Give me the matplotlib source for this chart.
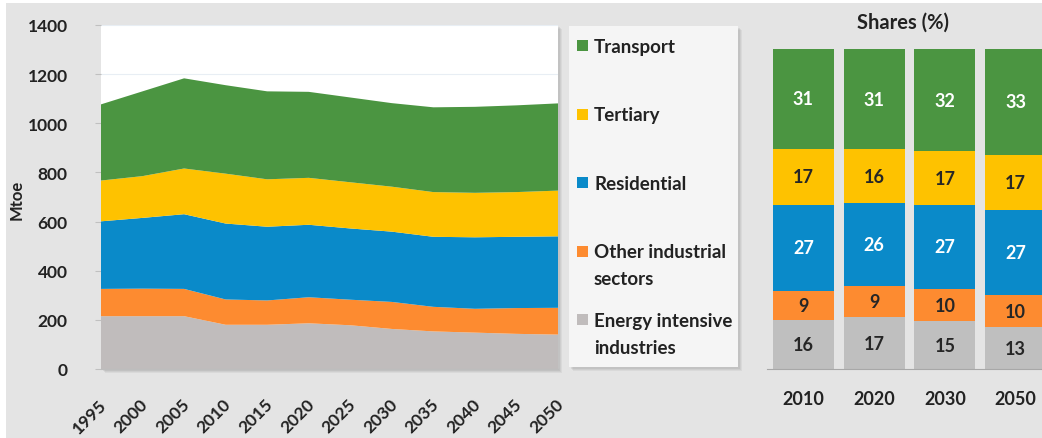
import numpy as np
import matplotlib
matplotlib.use("Agg")
import matplotlib.pyplot as plt
from matplotlib.patches import Rectangle
from matplotlib.transforms import ScaledTranslation

plt.rcParams['font.family'] = ['Lato', 'DejaVu Sans']
plt.rcParams['font.weight'] = 'bold'

# ---- data ----
years = [1995, 2000, 2005, 2010, 2015, 2020, 2025, 2030, 2035, 2040, 2045, 2050]
energy_intensive = [215, 215, 215, 180, 180, 186, 178, 163, 153, 148, 143, 140]
other_industrial = [111, 112, 111, 103, 99, 106, 104, 110, 100, 97, 105, 109]
residential = [275, 288, 304, 309, 300, 295, 290, 286, 285, 291, 290, 291]
tertiary = [166, 170, 186, 203, 193, 191, 188, 183, 182, 181, 182, 186]
transport = [310, 345, 367, 360, 358, 350, 345, 340, 345, 350, 353, 355]

series_names = ['Energy intensive\nindustries', 'Other industrial\nsectors',
                'Residential', 'Tertiary', 'Transport']
colors = ['#c0bcbc', '#fd8b30', '#0a8ac9', '#fec200', '#4b9541']
bar_colors = ['#bfbfbf', '#fd8b30', '#0a8ac9', '#fec200', '#4b9541']
label_colors = ['#262626', '#262626', 'white', '#262626', 'white']

share_years = ['2010', '2020', '2030', '2050']
share_energy = [15.4, 16.1, 14.9, 13.0]
share_other = [9.0, 9.7, 10.1, 10.1]
share_resid = [26.9, 26.0, 26.25, 26.7]
share_tert = [17.5, 16.9, 16.8, 17.2]
share_transp = [31.2, 31.3, 31.95, 33.0]
lab_energy = [16, 17, 15, 13]
lab_other = [9, 9, 10, 10]
lab_resid = [27, 26, 27, 27]
lab_tert = [17, 16, 17, 17]
lab_transp = [31, 31, 32, 33]

W, H = 1042, 439
fig = plt.figure(figsize=(W / 100, H / 100), dpi=100, facecolor='white')
txt = '#222222'


def fx(px):
    return px / W


def fy(py):
    return 1 - py / H


# grey background panel
fig.add_artist(Rectangle((fx(6), 0), 1, fy(4), transform=fig.transFigure,
                         facecolor='#e4e4e4', edgecolor='none', zorder=-10))


def shadow(x0, y0, x1, y1):
    for k, a in [(4, 0.10), (3, 0.12), (2, 0.15)]:
        fig.add_artist(Rectangle((fx(x0 + k), fy(y1 + k)), fx(x1 - x0), fy(y0) - fy(y1),
                                 transform=fig.transFigure, facecolor='#808080',
                                 edgecolor='none', alpha=a, zorder=-5))


# ---- stacked area ----
shadow(101, 26, 558, 370)
ax = fig.add_axes([fx(101), fy(370), fx(457), fy(26) - fy(370)])
ax.set_facecolor('white')
ax.stackplot(years, energy_intensive, other_industrial, residential, tertiary, transport,
             colors=colors, linewidth=0, zorder=2)
ax.set_xlim(1995, 2050)
ax.set_ylim(0, 1400)
ax.set_yticks(range(0, 1401, 200))
ax.set_xticks(years)
ax.grid(axis='y', color='#e8eef4', linewidth=0.8, zorder=1)
for s in ['top', 'right', 'left']:
    ax.spines[s].set_visible(False)
ax.spines['bottom'].set_color('#bdbdbd')
ax.tick_params(axis='y', length=4, color='#c0c0c0', pad=20, labelsize=12.5, labelcolor=txt)
ax.tick_params(axis='x', length=0, pad=14, labelsize=12.5, labelcolor=txt)
for lab in ax.get_xticklabels():
    lab.set_rotation(45)
    lab.set_ha('right')
    lab.set_va('center')
    lab.set_rotation_mode('anchor')
    lab.set_transform(lab.get_transform() + ScaledTranslation(3 / 100, -13 / 100, fig.dpi_scale_trans))
fig.text(fx(17), fy(200), 'Mtoe', rotation=90, ha='center', va='center',
         fontsize=12, color=txt, fontweight='bold')

# ---- legend panel ----
shadow(569, 27, 738, 368)
lax = fig.add_axes([fx(569), fy(368), fx(169), fy(27) - fy(368)])
lax.set_facecolor('#f5f5f5')
lax.set_xlim(569, 738)
lax.set_ylim(368, 27)
lax.axis('off')
lax.add_patch(Rectangle((569, 27), 169, 341, facecolor='#f5f5f5', edgecolor='none'))
for i, (name, c) in enumerate(zip(series_names[::-1], colors[::-1])):
    yb = 53 + i * 68.5
    lax.add_patch(Rectangle((577, yb - 12), 11, 11, facecolor=c, edgecolor='none'))
    for j, line in enumerate(name.split('\n')):
        lax.text(594, yb + j * 27, line, ha='left', va='baseline', fontsize=13.5,
                 color=txt, fontweight='bold')

# ---- shares bars ----
bx = fig.add_axes([fx(767), fy(370), fx(284), fy(50) - fy(370)])
bx.set_facecolor('none')
pos = np.arange(len(share_years))
bottom = np.zeros(len(share_years))
shares = [share_energy, share_other, share_resid, share_tert, share_transp]
labels = [lab_energy, lab_other, lab_resid, lab_tert, lab_transp]
for vals, labs, c, lc in zip(shares, labels, bar_colors, label_colors):
    bx.bar(pos, vals, bottom=bottom, width=0.86, color=c, linewidth=0)
    for p, v, b, l in zip(pos, vals, bottom, labs):
        bx.text(p, b + v / 2, str(l), ha='center', va='center', fontsize=13,
                color=lc, fontweight='bold')
    bottom += np.array(vals)
bx.set_xlim(-0.515, 3.5)
bx.set_ylim(0, 100)
bx.set_xticks(pos)
bx.set_xticklabels(share_years)
bx.set_yticks([])
for s in ['top', 'right', 'left']:
    bx.spines[s].set_visible(False)
bx.spines['bottom'].set_color('#a8a8a8')
bx.tick_params(axis='x', length=0, pad=15, labelsize=13, labelcolor=txt)
fig.text(fx(903), fy(23), 'Shares (%)', ha='center', va='center', fontsize=14.5,
         color=txt, fontweight='bold')

fig.savefig('out.png', dpi=100, facecolor=fig.get_facecolor())
